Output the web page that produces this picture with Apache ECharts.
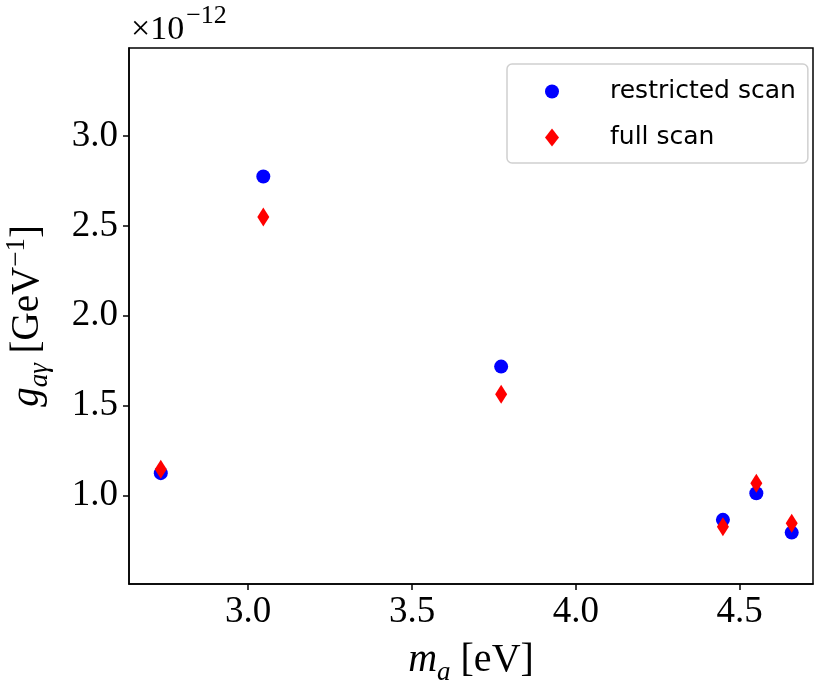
<!DOCTYPE html>
<html>
<head>
<meta charset="utf-8">
<script src="https://cdn.jsdelivr.net/npm/echarts@6/dist/echarts.min.js"></script>
<style>html,body{margin:0;padding:0;background:#fff}#c{width:814px;height:682px}</style>
</head>
<body>
<div id="c"></div>
<script>
// data (g values in units of 1e-12 GeV^-1)
var massEV = [2.733, 3.046, 3.772, 4.449, 4.551, 4.659];
var restrictedScan = [1.124, 2.775, 1.717, 0.864, 1.012, 0.793];
var fullScan = [1.146, 2.549, 1.563, 0.826, 1.068, 0.845];
var xTicks = [3.0, 3.5, 4.0, 4.5];
var yTicks = [1.0, 1.5, 2.0, 2.5, 3.0];
var seriesNames = ['restricted scan', 'full scan'];

function pairs(xs, ys){ return xs.map(function(x,i){ return [x, ys[i]]; }); }

var serif = 'Liberation Serif';
var chart = echarts.init(document.getElementById('c'), null, {renderer:'canvas'});
chart.setOption({
  animation: false,
  backgroundColor: '#fff',
  graphic: [{
    type: 'text', left: 131, top: 3,
    style: {
      text: '{rm|×10}{sup|−12}',
      rich: {
        rm: {fontFamily: serif, fontWeight: 'normal', fontSize: 34, fill: '#000', lineHeight: 44, verticalAlign: 'bottom'},
        sup: {fontFamily: serif, fontWeight: 'normal', fontSize: 26, fill: '#000', lineHeight: 44, verticalAlign: 'top', padding:[0,0,0,2]}
      }
    }
  }],
  grid: {left: 129, right: 1, top: 48, bottom: 98, show: true, borderColor: '#000', borderWidth: 1.5,
         containLabel: false, outerBoundsMode: 'none'},
  legend: {
    left: 507, top: 64,
    orient: 'vertical',
    backgroundColor: '#fff',
    borderColor: '#d0d0d0', borderWidth: 1.5, borderRadius: 5,
    padding: [15, 12, 13, 38],
    itemGap: 21,
    itemWidth: 14, itemHeight: 18,
    textStyle: {fontFamily: 'DejaVu Sans', fontSize: 25, color: '#000', padding: [0,0,0,46]},
    data: [
      {name: seriesNames[0], icon: 'circle', itemStyle:{color:'#0000ff'}},
      {name: seriesNames[1], icon: 'diamond', itemStyle:{color:'#ff0000'}}
    ]
  },
  xAxis: {
    type: 'value', min: 2.636, max: 4.724,
    splitLine: {show: false},
    axisLine: {show: true, onZero: false, lineStyle: {color: '#000', width: 1.5}},
    axisTick: {show: true, length: 6, lineStyle:{color:'#000', width:1.5}, customValues: xTicks},
    axisLabel: {customValues: xTicks, fontFamily: serif, fontSize: 37, color: '#000', margin: 10,
      formatter: function(v){ return v.toFixed(1); }},
    name: '{it|m}{sub|a}{rm|\u00a0[eV]}',
    nameLocation: 'middle', nameGap: 56,
    nameTextStyle: {
      rich: {
        it: {fontFamily: serif, fontStyle: 'italic', fontSize: 40, color:'#000', lineHeight: 46, verticalAlign:'top'},
        sub: {fontFamily: serif, fontStyle: 'italic', fontSize: 27, color:'#000', lineHeight: 46, verticalAlign:'bottom'},
        rm: {fontFamily: serif, fontSize: 40, color:'#000', lineHeight: 46, verticalAlign:'top'}
      }
    }
  },
  yAxis: {
    type: 'value', min: 0.507, max: 3.49,
    splitLine: {show: false},
    axisLine: {show: true, onZero: false, lineStyle: {color: '#000', width: 1.5}},
    axisTick: {show: true, length: 6, lineStyle:{color:'#000', width:1.5}, customValues: yTicks},
    axisLabel: {customValues: yTicks, fontFamily: serif, fontSize: 37, color: '#000', margin: 11,
      formatter: function(v){ return v.toFixed(1); }},
    name: '{it|g}{sub|aγ}{rm|\u00a0[GeV}{sup|−1}{rm|]}',
    nameLocation: 'middle', nameGap: 76, nameRotate: 90,
    nameTextStyle: {
      rich: {
        it: {fontFamily: serif, fontStyle: 'italic', fontSize: 39, color:'#000', lineHeight: 50, verticalAlign:'middle'},
        sub: {fontFamily: serif, fontStyle: 'italic', fontSize: 27, color:'#000', lineHeight: 50, verticalAlign:'bottom'},
        rm: {fontFamily: serif, fontSize: 39, color:'#000', lineHeight: 50, verticalAlign:'middle'},
        sup: {fontFamily: serif, fontSize: 27, color:'#000', lineHeight: 50, verticalAlign:'top'}
      }
    }
  },
  series: [
    {name: seriesNames[0], type: 'scatter', symbol: 'circle', symbolSize: 14,
     itemStyle: {color: '#0000ff', opacity: 1}, data: pairs(massEV, restrictedScan), z: 2},
    {name: seriesNames[1], type: 'scatter', symbol: 'diamond', symbolSize: [12, 19],
     itemStyle: {color: '#ff0000', opacity: 1}, data: pairs(massEV, fullScan), z: 3}
  ]
});
</script>
</body>
</html>
